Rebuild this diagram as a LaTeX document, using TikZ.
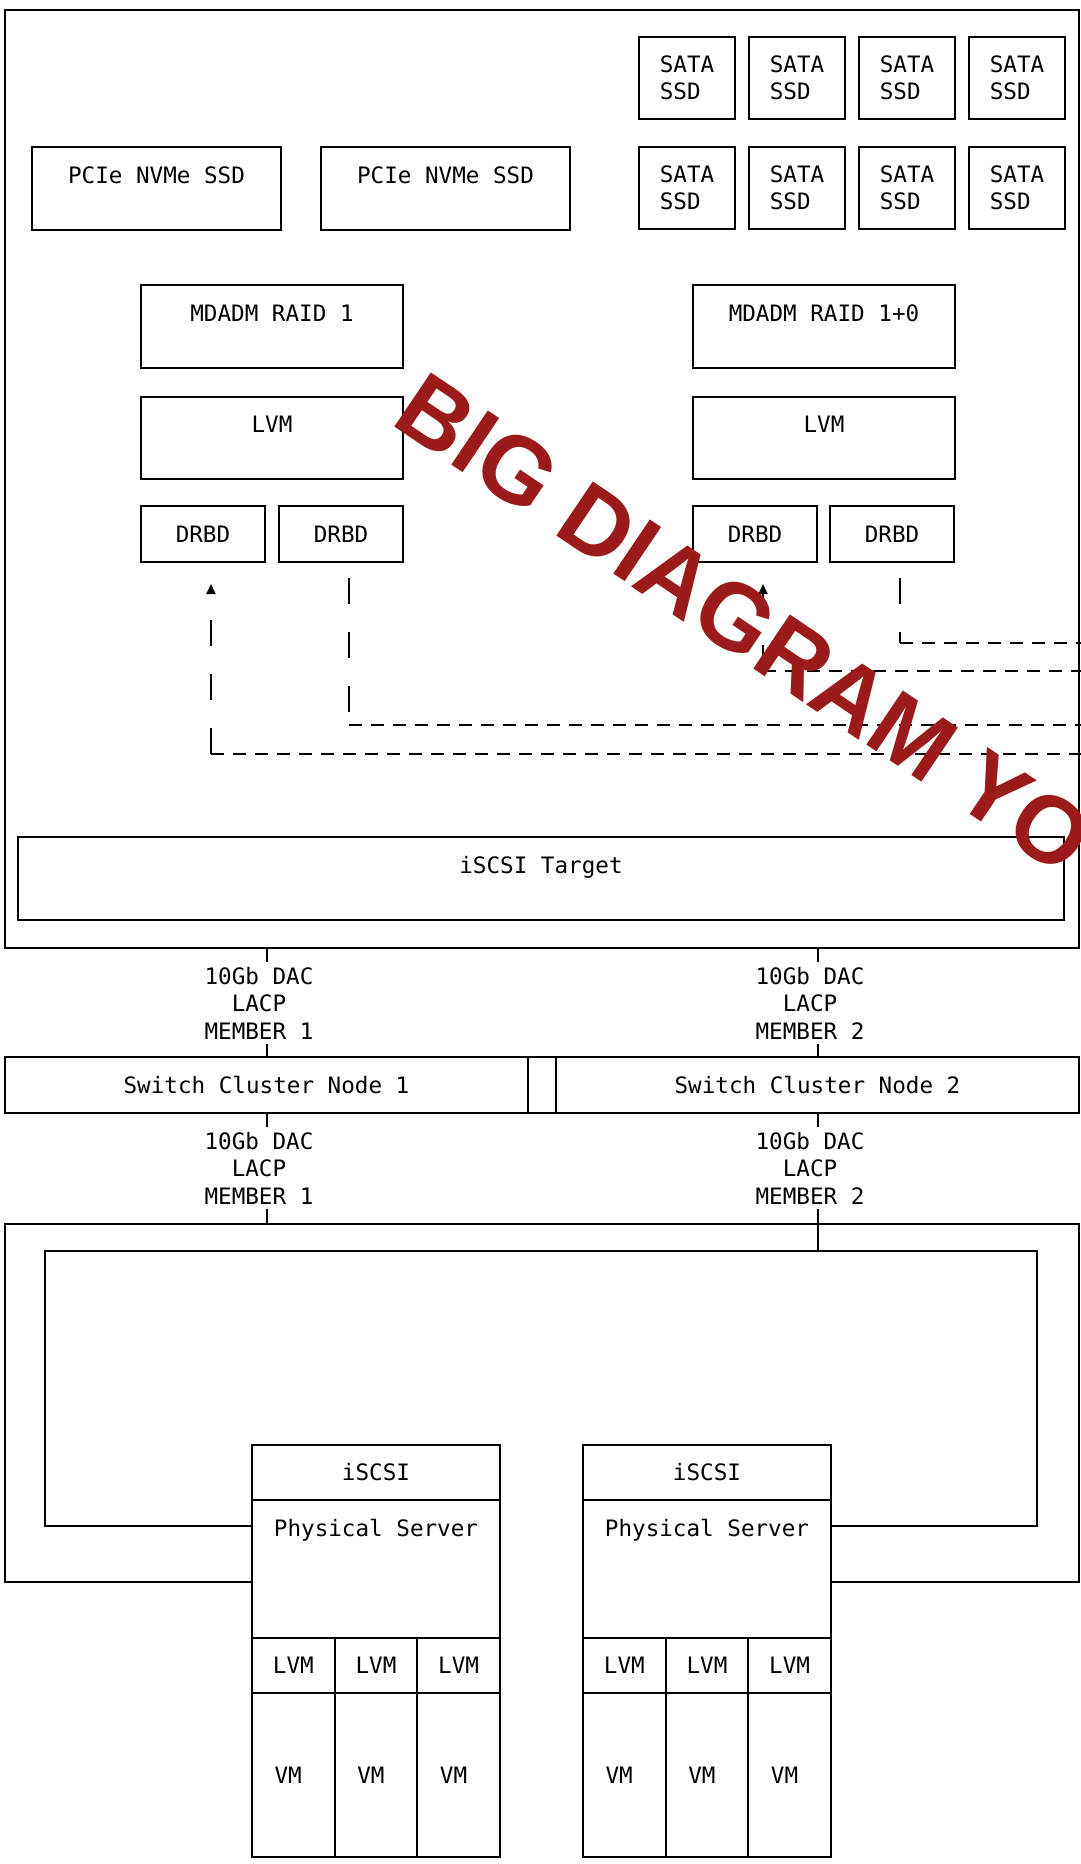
\documentclass[tikz,border=0pt]{standalone}
\usepackage{fontspec}
\newfontfamily\mono{DejaVu Sans Mono}
\newfontfamily\stampfont{Liberation Sans}
\usetikzlibrary{positioning,arrows.meta}
\definecolor{stampred}{RGB}{155,27,27}

\begin{document}
\begin{tikzpicture}[
    x=0.5pt, y=-0.5pt,
    >={Triangle[length=5pt,width=4.5pt]},
    every node/.style={font=\mono\fontsize{11.3}{13.75}\selectfont},
    box/.style={draw,line width=1pt,inner sep=0pt,outer sep=0pt,align=center},
    upper/.style={text height=18pt,text depth=#1},
    upper/.default=23.25pt,
    sata/.style={box,minimum width=48pt,minimum height=41pt,align=left},
    drbd/.style={box,minimum width=62pt,minimum height=28pt},
    cell/.style={box,minimum width=41.33pt,minimum height=27.5pt},
    vmcell/.style={box,minimum height=82pt,text width=18.73pt,inner xsep=11.3pt,align=left},
    lacp/.style={fill=white,inner sep=0pt,minimum height=41pt,align=center},
    wire/.style={line width=1pt},
    vdash/.style={line width=1pt,dash pattern=on 13pt off 14pt},
    hdash/.style={line width=1pt,dash pattern=on 6.5pt off 4.5pt}
]
\path[fill=white,use as bounding box] (0,0) rectangle (1081,1864);

% Storage host
\node[box,line width=1.2pt,minimum width=537pt,minimum height=469pt,anchor=north west] (host) at (5,10) {};

% SATA disks
\node[sata,anchor=north west] (sata1) at (639,37) {SATA\\SSD};
\node[sata,right=7pt of sata1] (sata2) {SATA\\SSD};
\node[sata,right=7pt of sata2] (sata3) {SATA\\SSD};
\node[sata,right=7pt of sata3] (sata4) {SATA\\SSD};
\node[sata,below=14pt of sata1] (sata5) {SATA\\SSD};
\node[sata,right=7pt of sata5] (sata6) {SATA\\SSD};
\node[sata,right=7pt of sata6] (sata7) {SATA\\SSD};
\node[sata,right=7pt of sata7] (sata8) {SATA\\SSD};

% NVMe disks
\node[box,upper,minimum width=124.5pt,anchor=north west] (nvme1) at (32,147) {PCIe NVMe SSD};
\node[box,upper,minimum width=124.5pt,right=20pt of nvme1] (nvme2) {PCIe NVMe SSD};

% RAID and LVM
\node[box,upper,minimum width=131pt,anchor=north west] (raid1) at (141,285) {MDADM RAID 1};
\node[box,upper,minimum width=131pt,anchor=north west] (raid10) at (693,285) {MDADM RAID 1+0};
\node[box,upper,minimum width=131pt,below=14.5pt of raid1] (lvmA) {LVM};
\node[box,upper,minimum width=131pt,below=14.5pt of raid10] (lvmB) {LVM};

% DRBD
\node[drbd,below=13.5pt of lvmA.south west,anchor=north west] (dl1) {DRBD};
\node[drbd,right=7pt of dl1] (dl2) {DRBD};
\node[drbd,below=13.5pt of lvmB.south west,anchor=north west] (dr1) {DRBD};
\node[drbd,right=6.5pt of dr1] (dr2) {DRBD};

\node[box,upper,minimum width=523pt,anchor=north west] (target) at (18,837) {iSCSI Target};

% Replication links
\coordinate (e1) at (1081,754);
\coordinate (e2) at (1081,725);
\coordinate (e3) at (1081,671);
\coordinate (e4) at (1081,643);
\coordinate (t1) at ([xshift=4pt,yshift=-11pt]dl1.south);
\coordinate (t2) at ([xshift=4pt,yshift=-8pt]dl2.south);
\coordinate (t3) at ([xshift=4pt,yshift=-11pt]dr1.south);
\coordinate (t4) at ([xshift=4pt,yshift=-8pt]dr2.south);

\draw[vdash,->] (t1 |- e1) -- (t1);
\draw[hdash] (t1 |- e1) -- (e1);
\draw[vdash] (t2) -- (t2 |- e2);
\draw[hdash] (t2 |- e2) -- (e2);
\draw[vdash,->] (t3 |- e3) -- (t3);
\draw[hdash] (t3 |- e3) -- (e3);
\draw[vdash] (t4) -- (t4 |- e4);
\draw[hdash] (t4 |- e4) -- (e4);

% Switch cluster
\node[box,minimum width=261.5pt,minimum height=28pt,anchor=north west] (sw1) at (5,1057) {Switch Cluster Node 1};
\node[box,minimum width=261.5pt,minimum height=28pt,right=14pt of sw1] (sw2) {Switch Cluster Node 2};
\draw[wire] (sw1.north east) -- (sw2.north west);
\draw[wire] (sw1.south east) -- (sw2.south west);

\draw[wire] (host.south -| sw1.north) -- (sw1.north);
\draw[wire] (host.south -| sw2.north) -- (sw2.north);
\node[lacp] (up1) at (259,1003) {10Gb DAC\\LACP\\MEMBER 1};
\node[lacp] (up2) at (810,1003) {10Gb DAC\\LACP\\MEMBER 2};

% Servers
\node[box,minimum width=124pt,minimum height=27.5pt,anchor=north west] (iscsi1) at (252,1445) {iSCSI};
\node[box,upper=51pt,minimum width=124pt,below=0pt of iscsi1] (phys1) {Physical Server};
\node[cell,below=0pt of phys1.south west,anchor=north west] (lvm1a) {LVM};
\node[cell,right=0pt of lvm1a] (lvm1b) {LVM};
\node[cell,right=0pt of lvm1b] (lvm1c) {LVM};
\node[vmcell,below=0pt of lvm1a] (vm1a) {VM};
\node[vmcell,below=0pt of lvm1b] (vm1b) {VM};
\node[vmcell,below=0pt of lvm1c] (vm1c) {VM};

\node[box,minimum width=124pt,minimum height=27.5pt,anchor=north west] (iscsi2) at (583,1445) {iSCSI};
\node[box,upper=51pt,minimum width=124pt,below=0pt of iscsi2] (phys2) {Physical Server};
\node[cell,below=0pt of phys2.south west,anchor=north west] (lvm2a) {LVM};
\node[cell,right=0pt of lvm2a] (lvm2b) {LVM};
\node[cell,right=0pt of lvm2b] (lvm2c) {LVM};
\node[vmcell,below=0pt of lvm2a] (vm2a) {VM};
\node[vmcell,below=0pt of lvm2b] (vm2b) {VM};
\node[vmcell,below=0pt of lvm2c] (vm2c) {VM};

% Server uplinks
\coordinate (outerNW) at (5,1224);
\coordinate (outerNE) at (1079,1224);
\coordinate (innerNW) at (45,1251);
\coordinate (innerNE) at (1037,1251);
\draw[wire] ([yshift=-6.5pt]phys1.west) -| (outerNW) -- (outerNE) |- ([yshift=-6.5pt]phys2.east);
\draw[wire] ([yshift=21.5pt]phys1.west) -| (innerNW) -- (innerNE) |- ([yshift=21.5pt]phys2.east);
\draw[wire] (sw1.south) -- (sw1.south |- outerNW);
\draw[wire] (sw2.south) -- (sw2.south |- innerNE);
\node[lacp] (down1) at (259,1168) {10Gb DAC\\LACP\\MEMBER 1};
\node[lacp] (down2) at (810,1168) {10Gb DAC\\LACP\\MEMBER 2};

% Stamp
\node[font=\stampfont\bfseries\fontsize{47.5}{47.5}\selectfont,text=stampred,rotate=-34,anchor=base west,inner sep=0pt] (stamp) at (389,423) {BIG DIAGRAM YO};

\end{tikzpicture}
\end{document}
